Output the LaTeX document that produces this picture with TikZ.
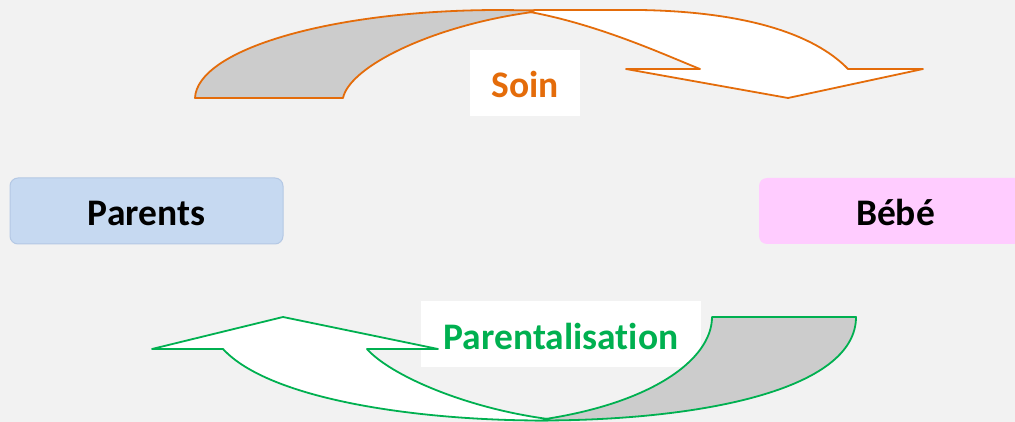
\documentclass[tikz,border=0pt]{standalone}
\usepackage{fontspec}
\setmainfont[Ligatures=NoCommon]{Carlito}
\definecolor{bg}{HTML}{F2F2F2}
\definecolor{soinc}{HTML}{E46C0A}
\definecolor{parc}{HTML}{00B050}
\definecolor{backfill}{HTML}{CCCCCC}
\definecolor{parfill}{HTML}{C6D9F1}
\definecolor{pardraw}{HTML}{B4C8E4}
\definecolor{bebefill}{HTML}{FFCCFF}
\tikzset{
  agent/.style={rounded corners=8pt, minimum width=273pt, minimum height=66pt, inner sep=0pt,
    font=\fontsize{37.5}{42}\selectfont\bfseries, text height=30pt, text depth=0pt},
  tag/.style={fill=white, minimum height=66pt, inner sep=0pt,
    font=\fontsize{37.5}{42}\selectfont\bfseries, text height=30pt, text depth=0pt},
  orangeline/.style={draw=soinc, line width=1.8pt, line join=round},
  greenline/.style={draw=parc, line width=1.8pt, line join=round}
}
\begin{document}
\begin{tikzpicture}[x=1pt,y=-1pt]
\fill[bg] (0,0) rectangle (1015,422);
\useasboundingbox (0,0) rectangle (1015,422);
\clip (0,0) rectangle (1015,422);

\node[agent, fill=parfill, draw=pardraw, line width=1pt] (parents) at (146.5,211) {Parents};
\node[agent, fill=bebefill] (bebe) at (895.5,211) {Bébé};
\node[tag, minimum width=110pt, text=soinc] (soin) at (525,83) {Soin};
\node[tag, minimum width=280pt, text=parc] (parentalisation) at (561,334) {Parentalisation};

% top curved arrow (Soin)
\path[orangeline, fill=backfill]
  (195,98) .. controls (197,50) and (330,10) .. (500,10) -- (545,10.5)
  .. controls (440,22) and (350,65) .. (343,98) -- cycle;
\path[orangeline, fill=white]
  (535,10) -- (640,10) .. controls (760,12) and (820,40) .. (848,69)
  -- (923,69) -- (788,98) -- (626,69) -- (700,69)
  .. controls (665,55) and (600,25) .. (530,12) -- cycle;

% bottom curved arrow (Parentalisation)
\path[greenline, fill=backfill]
  (712,317) -- (856,317) .. controls (856,390) and (700,421) .. (535,420.5)
  .. controls (650,405) and (712,360) .. (712,317) -- cycle;
\path[greenline, fill=white]
  (548,420.5) .. controls (420,421) and (270,400) .. (223,349)
  -- (152,349) -- (283,317) -- (438,349) -- (367,349)
  .. controls (390,375) and (465,408) .. (548,419) -- cycle;
\end{tikzpicture}
\end{document}
